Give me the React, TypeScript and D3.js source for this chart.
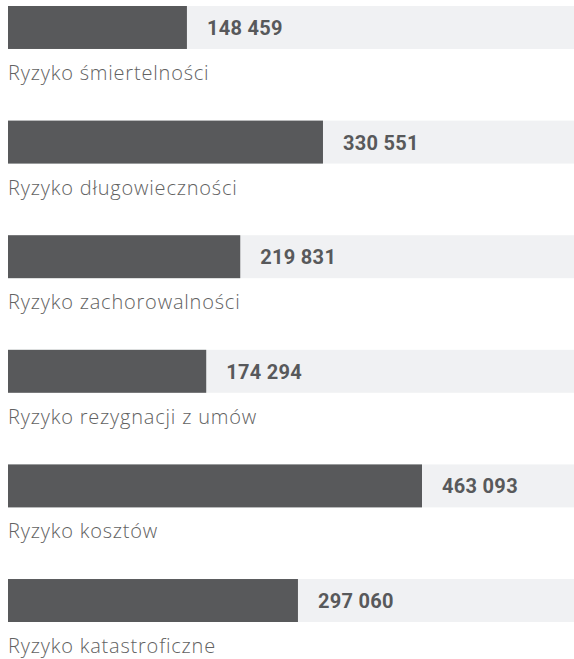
import * as d3 from "d3";
import React from "react";

const WIDTH = 574;
const HEIGHT = 659;
const LEFT = 8;

const categories = [
  "Ryzyko śmiertelności",
  "Ryzyko długowieczności",
  "Ryzyko zachorowalności",
  "Ryzyko rezygnacji z umów",
  "Ryzyko kosztów",
  "Ryzyko katastroficzne",
];
const values = [148459, 330551, 219831, 174294, 463093, 297060];

const DARK = "#58595b";
const BAND = "#f0f1f3";

const fmt = d3
  .formatLocale({ thousands: " ", grouping: [3], decimal: ",", currency: ["", ""] })
  .format(",");

export default function App() {
  // bars keep a minimum width, so the range doesn't start at the left edge
  const xScale = d3.scaleLinear().domain([0, d3.max(values) as number]).range([76, 422]);

  const yScale = d3
    .scaleBand<string>()
    .domain(categories)
    .range([6, 622])
    .paddingInner(0.625)
    .paddingOuter(0);

  const bh = yScale.bandwidth();

  return (
    <svg
      width={WIDTH}
      height={HEIGHT}
      style={{ position: "absolute", left: 0, top: 0 }}
    >
      {categories.map((c, i) => {
        const y = yScale(c) as number;
        const xEnd = xScale(values[i]);
        return (
          <g key={c}>
            <rect x={LEFT} y={y} width={WIDTH - LEFT} height={bh} fill={BAND} />
            <rect x={LEFT} y={y} width={xEnd - LEFT} height={bh} fill={DARK} />
            <text
              x={xEnd + 20}
              y={y + 29}
              fontFamily="Roboto, sans-serif"
              fontWeight={700}
              fontSize={20}
              letterSpacing={0.3}
              fill={DARK}
            >
              {fmt(values[i])}
            </text>
            <text
              x={LEFT}
              y={y + 74}
              fontFamily="'Open Sans', sans-serif"
              fontWeight={300}
              fontSize={20}
              letterSpacing={0.8}
              fill="#626262"
            >
              {c}
            </text>
          </g>
        );
      })}
    </svg>
  );
}
